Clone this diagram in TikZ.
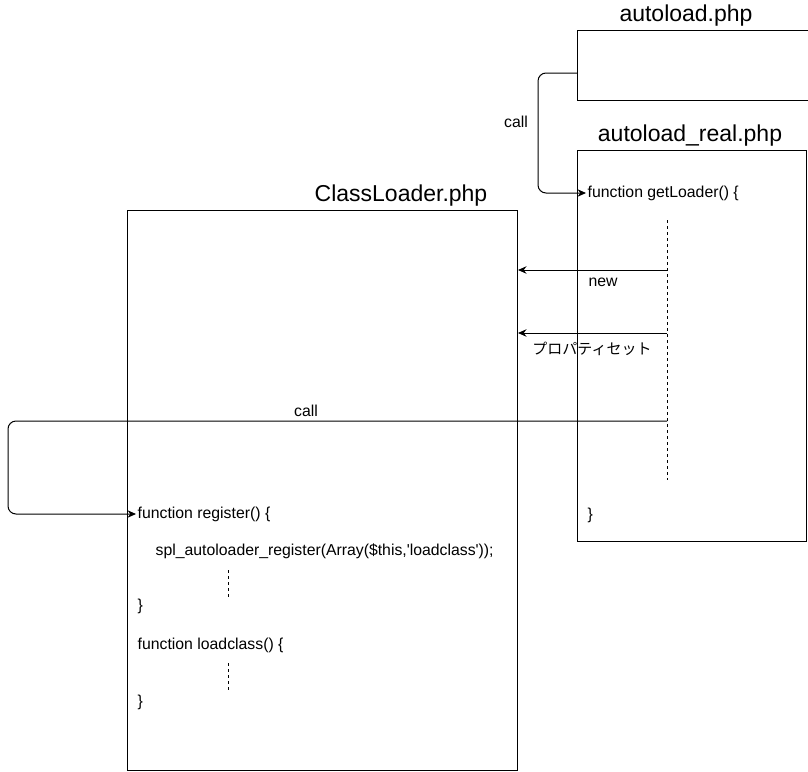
\documentclass[tikz,border=0pt]{standalone}
\usepackage{fontspec}
\setmainfont{Liberation Sans}
\newfontfamily\plainsans{Liberation Sans}
\newfontfamily\jpfont{Noto Sans CJK JP}
\usetikzlibrary{arrows.meta}
\begin{document}
\begin{tikzpicture}[x=1pt,y=-1pt,
  box/.style={draw, line width=1pt, rectangle, anchor=north west, inner sep=0pt},
  title/.style={font=\fontsize{23}{27}\selectfont, inner sep=0pt},
  code/.style={font=\fontsize{15.8}{18}\selectfont, anchor=west, inner sep=1.5pt},
  lbl/.style={font=\fontsize{15.8}{18}\selectfont, inner sep=0pt},
  arr/.style={line width=1pt, -{Stealth[length=8.5pt,width=7.5pt]}},
  lifeline/.style={line width=0.8pt, dash pattern=on 3pt off 3pt}]
\useasboundingbox (0,0) rectangle (808,771);

% file boxes
\node[box, minimum width=231pt, minimum height=70pt] (autoload) at (577,30) {};
\node[box, minimum width=229pt, minimum height=391pt] (real) at (577,150) {};
\node[box, minimum width=390pt, minimum height=560pt] (loader) at (127,210) {};

% file names
\node[title] (tAuto) at (686,16) {autoload.php};
\node[title] (tReal) at (690,136) {autoload\_real.php};
\node[title] (tLoader) at (401,196) {ClassLoader.php};

% autoload_real.php contents
\node[code] (getLoader) at (586,193) {function getLoader() \{};
\node[code] (realEnd) at (586,515) {\}};

% ClassLoader.php contents
\node[code] (register) at (136,514) {function register() \{};
\node[code, font=\plainsans\fontsize{15.8}{18}\selectfont] (spl) at (154,551) {spl\_autoloader\_register(Array(\$this,'loadclass'));};
\node[code] (regEnd) at (136,606) {\}};
\node[code] (loadclass) at (136,645) {function loadclass() \{};
\node[code] (lcEnd) at (136,702) {\}};

% lifelines
\coordinate (lTop) at (667,220);
\coordinate (lBot) at (667,480);
\draw[lifeline] (lTop) -- (lBot);
\coordinate (rTop) at (228,570);
\coordinate (rBot) at (228,597);
\draw[lifeline] (rTop) -- (rBot);
\coordinate (cTop) at (228,663);
\coordinate (cBot) at (228,690);
\draw[lifeline] (cTop) -- (cBot);

% message sources
\coordinate (autoCall) at (577,73);
\coordinate (mNew) at (667,270);
\coordinate (mProp) at (667,333);
\coordinate (mCall) at (667,421);
\coordinate (loaderNew) at (loader.east |- mNew);
\coordinate (loaderProp) at (loader.east |- mProp);

% messages
\draw[arr, rounded corners=8pt] (autoCall) -- ++(-39,0) |- (getLoader.west);
\node[lbl] (callA) at (516,122) {call};

\draw[arr] (mNew) -- (loaderNew);
\node[lbl] (newLbl) at (603,282) {new};

\draw[arr] (mProp) -- (loaderProp);
\node[lbl, font=\jpfont\fontsize{15}{18}\selectfont] (propLbl) at (592,349) {プロパティセット};

\draw[arr, rounded corners=8pt] (mCall) -- ++(-659,0) |- (register.west);
\node[lbl] (callB) at (306,411) {call};
\end{tikzpicture}
\end{document}
